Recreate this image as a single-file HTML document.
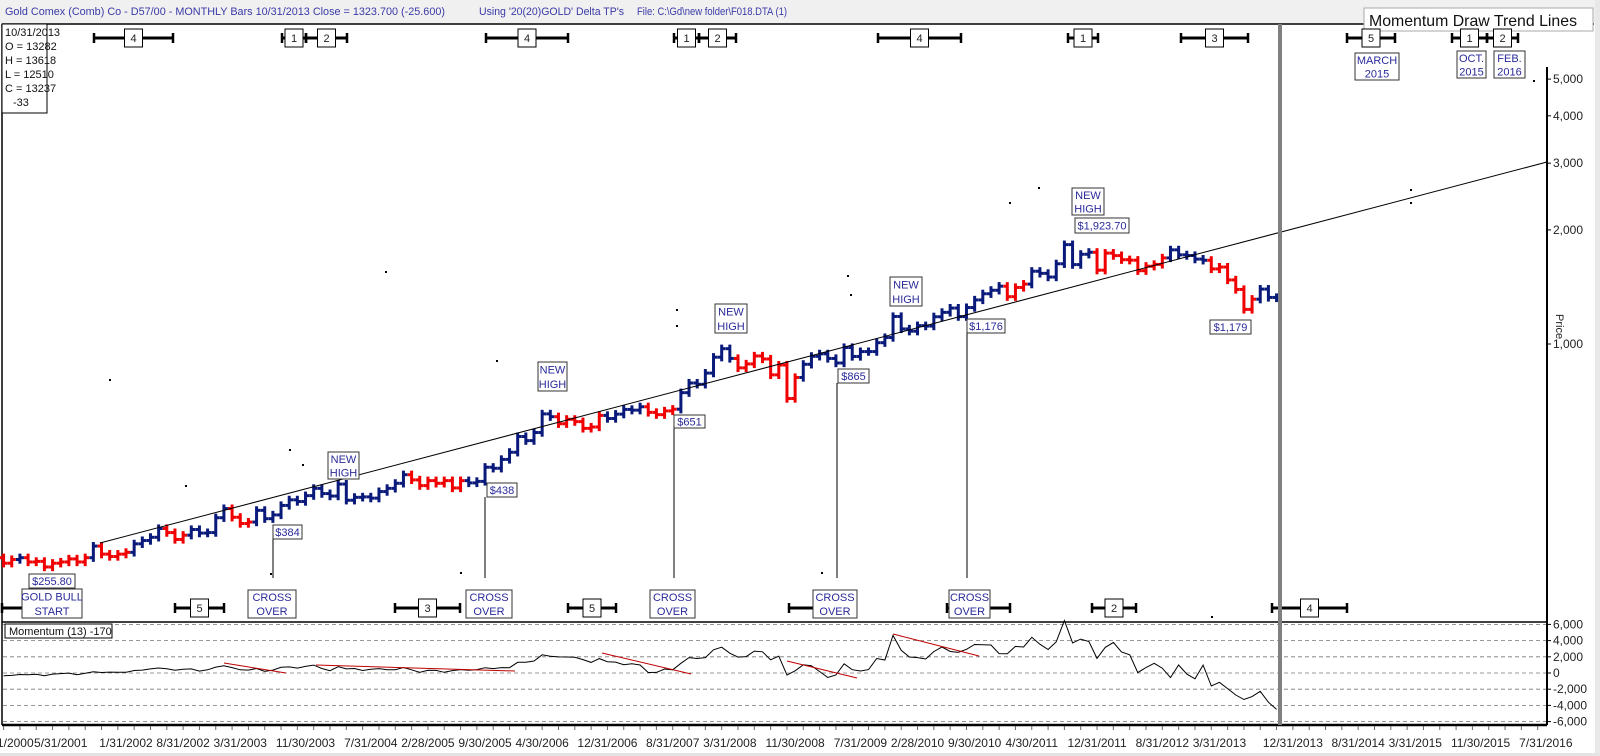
<!DOCTYPE html>
<html><head><meta charset="utf-8"><style>
html,body{margin:0;padding:0;background:#fff}
svg{display:block;font-family:"Liberation Sans",Arial,sans-serif}
.lb{fill:#fff;stroke:#333;stroke-width:1}
.lt{fill:#2a2a9a;font-size:11px;text-anchor:middle}
.ax{font-size:12px;fill:#222}
</style></head><body>
<svg id="chart" width="1600" height="756" viewBox="0 0 1600 756">
<rect x="0" y="0" width="1600" height="756" fill="#fff"/>
<rect x="0" y="0" width="1600" height="23" fill="#f0f0f0"/>
<rect x="1595" y="0" width="5" height="756" fill="#e8e8e8"/>
<rect x="0" y="753" width="1600" height="3" fill="#e4e4e4"/>
<text x="5" y="15" font-size="11" fill="#3a3aa8" textLength="440" lengthAdjust="spacingAndGlyphs">Gold Comex (Comb) Co - D57/00  - MONTHLY Bars  10/31/2013 Close = 1323.700 (-25.600)</text>
<text x="479" y="15" font-size="11" fill="#3a3aa8" textLength="145" lengthAdjust="spacingAndGlyphs">Using '20(20)GOLD' Delta TP's</text>
<text x="637" y="15" font-size="11" fill="#3a3aa8" textLength="150" lengthAdjust="spacingAndGlyphs">File: C:\Gd\new folder\F018.DTA (1)</text>
<line x1="2" y1="24" x2="1594" y2="24" stroke="#000" stroke-width="1.5"/>
<line x1="2" y1="24" x2="2" y2="725" stroke="#000" stroke-width="1.5"/>
<g>
<rect x="1364" y="8" width="229" height="23" fill="#fff" stroke="#aaa"/>
<text x="1369" y="26" font-size="16" fill="#111" textLength="208" lengthAdjust="spacingAndGlyphs">Momentum Draw Trend Lines</text>
</g>
<g font-size="11" fill="#111">
<rect x="2" y="24" width="45" height="89" fill="#fff" stroke="#000"/>
<text x="5" y="36">10/31/2013</text><text x="5" y="50">O = 13282</text><text x="5" y="64">H = 13618</text>
<text x="5" y="78">L = 12510</text><text x="5" y="92">C = 13237</text><text x="13" y="106">-33</text>
</g>
<g id="axes"></g>
<g id="marks"></g>
<g id="annot"></g>
</svg>
<script>
// ---- data ----
const monthsStart = -15; // Oct 2000 relative to Jan 2002
const priorCloses = [299,300,291,288,283,293,278,274,272,288,276,277,273];
const closes = [264,270,273,
266,267,258,264,266,271,266,273,293,279,275,279,
282,297,303,309,326,318,305,313,324,317,318,348,
368,349,336,339,364,346,354,375,388,384,398,416,
403,397,427,387,394,395,392,408,416,429,452,438,
423,436,429,436,417,436,430,434,473,470,496,518,
570,556,584,654,643,616,633,624,599,604,648,636,
653,672,669,683,660,651,666,673,744,789,783,838,
923,972,916,865,886,930,913,829,880,718,816,884,
928,942,916,891,979,927,955,955,1008,1040,1182,1096,
1081,1118,1115,1180,1212,1244,1181,1248,1307,1357,1386,1421,
1333,1410,1439,1556,1536,1502,1628,1829,1620,1725,1746,1566,
1737,1711,1669,1664,1561,1604,1622,1687,1772,1719,1712,1675,
1663,1578,1596,1476,1393,1234,1313,1396,1327,1323];
const redRanges = [[-15,-14],[-12,-5],[-3,0],[5,7],[13,15],[35,41],[53,58],[64,67],[75,82],[108,110],[119,127],[133,138]];
const priceTicks = [1000,2000,3000,4000,5000];
const priceTickLabels = ["1,000","2,000","3,000","4,000","5,000"];
const momTicks = [6000,4000,2000,0,-2000,-4000,-6000];
const momTickLabels = ["6,000","4,000","2,000","0","-2,000","-4,000","-6,000"];
const xLabelMonths = [-15,-8,0,7,14,22,30,37,44,51,59,67,74,82,90,97,104,111,119,127,134,143,151,158,166,174];
const xLabels = ["10/31/2000","5/31/2001","1/31/2002","8/31/2002","3/31/2003","11/30/2003","7/31/2004","2/28/2005","9/30/2005","4/30/2006","12/31/2006","8/31/2007","3/31/2008","11/30/2008","7/31/2009","2/28/2010","9/30/2010","4/30/2011","12/31/2011","8/31/2012","3/31/2013","12/31/2013","8/31/2014","3/31/2015","11/30/2015","7/31/2016"];

// ---- scales ----
const X = m => 126 + 8.16*m;
const Y = p => 344 - 379*Math.log10(p/1000);
const MY = v => 673 - v/2000*16.2;
const NS = "http://www.w3.org/2000/svg";
function mk(tag, attrs, parent){const e=document.createElementNS(NS,tag);for(const k in attrs)e.setAttribute(k,attrs[k]);parent.appendChild(e);return e;}
const axes=document.getElementById('axes'), marks=document.getElementById('marks');

// price axis
mk('line',{x1:1547,y1:67,x2:1547,y2:621,stroke:'#000','stroke-width':2},axes);
priceTicks.forEach((p,i)=>{
  mk('line',{x1:1547,y1:Y(p),x2:1551,y2:Y(p),stroke:'#000'},axes);
  const t=mk('text',{x:1553,y:Y(p)+4,class:'ax','font-size':11},axes);
  
  
  t.textContent=priceTickLabels[i];
});
const pl=mk('text',{x:1556,y:314,'font-size':11,fill:'#222',transform:'rotate(90 1556 314)'},axes);


pl.textContent='Price';

// momentum panel
mk('line',{x1:2,y1:622,x2:1547,y2:622,stroke:'#000','stroke-width':1.5},axes);
mk('line',{x1:1547,y1:621,x2:1547,y2:725,stroke:'#000','stroke-width':2},axes);
mk('line',{x1:2,y1:725,x2:1547,y2:725,stroke:'#000','stroke-width':2.5},axes);
momTicks.forEach((v,i)=>{
  mk('line',{x1:3,y1:MY(v),x2:1546,y2:MY(v),stroke:'#777','stroke-dasharray':'4,3','stroke-width':0.8},axes);
  mk('line',{x1:1547,y1:MY(v),x2:1551,y2:MY(v),stroke:'#000'},axes);
  const t=mk('text',{x:1553,y:MY(v)+4,class:'ax','font-size':11},axes);
  
  
  t.textContent=momTickLabels[i];
});
for(let m=-15;m<=174;m+=2){mk('line',{x1:X(m),y1:726,x2:X(m),y2:730,stroke:'#666'},axes);}
xLabelMonths.forEach((m,i)=>{
  const t=mk('text',{x:X(m),y:747,class:'ax','text-anchor':'middle'},axes);
  
  
  t.textContent=xLabels[i];
});

// bars
const isRed = m => redRanges.some(r=>m>=r[0]&&m<=r[1]);
const allC = priorCloses.concat(closes);
closes.forEach((c,i)=>{
  const m=monthsStart+i, o=i>0?closes[i-1]:priorCloses[priorCloses.length-1];
  const hi=Math.max(o,c)*1.025, lo=Math.min(o,c)*0.975, x=X(m);
  const col=isRed(m)?'#f00000':'#0a1a7a';
  const g=mk('g',{stroke:col,'stroke-width':3},marks);
  
  
  mk('line',{x1:x,y1:Y(hi),x2:x,y2:Y(lo)},g);
  mk('line',{x1:x-4,y1:Y(o),x2:x,y2:Y(o)},g);
  mk('line',{x1:x,y1:Y(c),x2:x+4,y2:Y(c)},g);
});

// momentum line
let pts=[];
closes.forEach((c,i)=>{const j=i+priorCloses.length;const v=(allC[j]-allC[j-13])*10;pts.push(X(monthsStart+i).toFixed(1)+','+MY(v).toFixed(1));});
const ml=mk('polyline',{points:pts.join(' '),fill:'none',stroke:'#000','stroke-width':1},marks);


</script>
<script>
(function(){
const NS="http://www.w3.org/2000/svg",A=document.getElementById('annot');
function mk(t,a,p){const e=document.createElementNS(NS,t);for(const k in a)e.setAttribute(k,a[k]);(p||A).appendChild(e);return e;}
// trend line
const tl=mk('line',{x1:100,y1:543,x2:1547,y2:162,stroke:'#000','stroke-width':1});


// momentum red trend lines
[[224,663,286,673],[316,665,515,671],[602,653,691,674],[787,661,857,678],[893,634,979,656]].forEach(s=>{
  const l=mk('line',{x1:s[0],y1:s[1],x2:s[2],y2:s[3],stroke:'#c00000','stroke-width':1});
  
  
});
// dots
[[110,380],[186,486],[290,450],[303,465],[386,272],[461,573],[497,361],[677,310],[677,326],[822,573],[848,276],[851,295],[1010,203],[1039,188],[1411,190],[1411,203],[1534,81],[271,574],[1212,617]].forEach(d=>{
  mk('rect',{x:d[0]-1,y:d[1]-1,width:2,height:2,fill:'#000'});
});
// drop lines
[[273,539],[485,497],[674,428],[837,383],[967,333]].forEach(v=>{mk('line',{x1:v[0],y1:v[1],x2:v[0],y2:578,stroke:'#000','stroke-width':1});});
// cycle markers (drawn before labels so labels cover them)
function cyc(x1,x2,y,label){
  const g=mk('g',{});
  
  
  mk('line',{x1:x1,y1:y,x2:x2,y2:y,stroke:'#000','stroke-width':3},g);
  mk('line',{x1:x1,y1:y-5,x2:x1,y2:y+5,stroke:'#000','stroke-width':2.5},g);
  mk('line',{x1:x2,y1:y-5,x2:x2,y2:y+5,stroke:'#000','stroke-width':2.5},g);
  if(label){const cx=(x1+x2)/2;mk('rect',{x:cx-9,y:y-9,width:18,height:18,fill:'#fff',stroke:'#000'},g);
    const t=mk('text',{x:cx,y:y+4,'font-size':11,'text-anchor':'middle',fill:'#222'},g);t.textContent=label;}
}
cyc(94,173,38,'4');cyc(282,306,38,'1');cyc(306,347,38,'2');cyc(486,568,38,'4');
cyc(674,699,38,'1');cyc(699,736,38,'2');cyc(878,961,38,'4');cyc(1068,1098,38,'1');
cyc(1181,1248,38,'3');cyc(1347,1395,38,'5');cyc(1452,1487,38,'1');cyc(1487,1518,38,'2');
cyc(2,44,608,'');cyc(175,224,608,'5');cyc(395,460,608,'3');cyc(568,616,608,'5');
cyc(789,855,608,'');cyc(947,1010,608,'');cyc(1092,1136,608,'2');cyc(1272,1347,608,'4');
// gray current line
const gl=mk('rect',{x:1278,y:24,width:4,height:701,fill:'#808080'});


// label boxes
function box(x1,y1,x2,y2,lines,name){
  const g=mk('g',{});
  
  
  mk('rect',{x:x1,y:y1,width:x2-x1,height:y2-y1,class:'lb'},g);
  const h=(y2-y1)/lines.length;
  lines.forEach((s,i)=>{const t=mk('text',{x:(x1+x2)/2,y:y1+h*i+h/2+4,class:'lt'},g);t.textContent=s;});
}
box(29,574,75,588,['$255.80'],'low-label');
box(22,589,82,618,['GOLD BULL','START'],'gold-bull-start-label');
box(273,525,302,539,['$384'],'price-label');
box(328,452,359,479,['NEW','HIGH'],'new-high-label');
box(487,483,517,497,['$438'],'price-label');
box(538,362,567,391,['NEW','HIGH'],'new-high-label');
box(674,415,705,428,['$651'],'price-label');
box(715,304,747,333,['NEW','HIGH'],'new-high-label');
box(838,369,869,383,['$865'],'price-label');
box(890,277,922,306,['NEW','HIGH'],'new-high-label');
box(967,319,1005,333,['$1,176'],'price-label');
box(1072,188,1104,215,['NEW','HIGH'],'new-high-label');
box(1075,218,1129,233,['$1,923.70'],'high-price-label');
box(1210,320,1251,334,['$1,179'],'price-label');
box(1355,53,1399,80,['MARCH','2015'],'forecast-label');
box(1457,51,1486,78,['OCT.','2015'],'forecast-label');
box(1494,51,1525,78,['FEB.','2016'],'forecast-label');
[[248,296],[466,512],[650,695],[813,857],[949,990]].forEach(c=>box(c[0],590,c[1],618,['CROSS','OVER'],'cross-over-label'));
// momentum label
const g=mk('g',{});


mk('rect',{x:5,y:624,width:107,height:14,fill:'#fff',stroke:'#000'},g);
const t=mk('text',{x:9,y:635,'font-size':11,fill:'#111'},g);t.textContent='Momentum (13)  -170';
})();
</script>
</body></html>
